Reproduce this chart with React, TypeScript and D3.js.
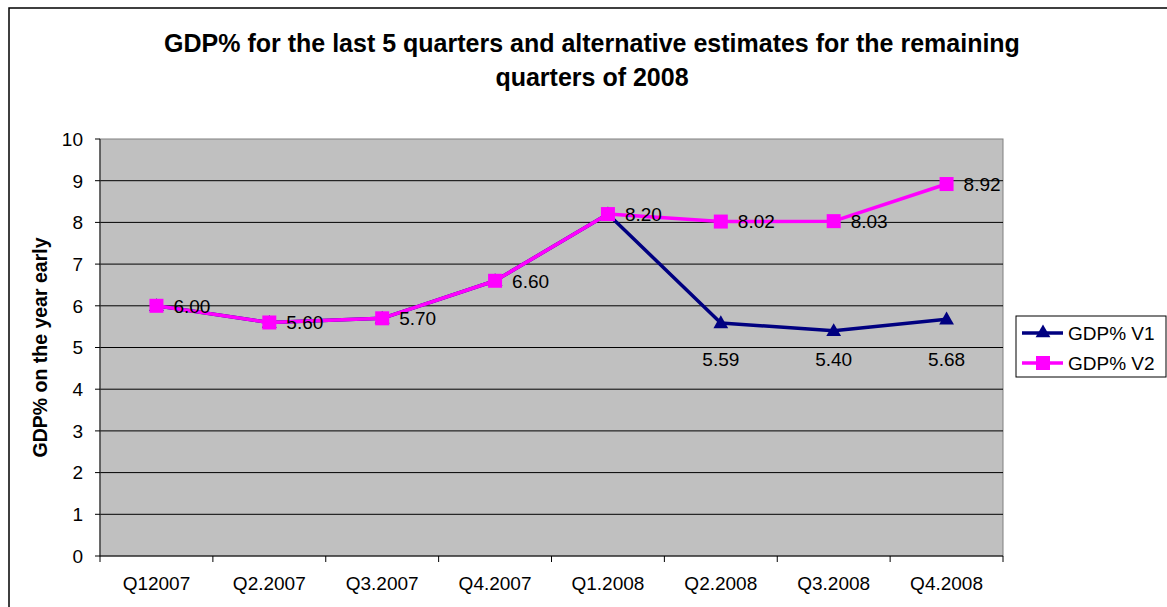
import React from "react";
import * as d3 from "d3";

const quarters = ["Q12007", "Q2.2007", "Q3.2007", "Q4.2007", "Q1.2008", "Q2.2008", "Q3.2008", "Q4.2008"];
const gdpV1 = [6.0, 5.6, 5.7, 6.6, 8.2, 5.59, 5.4, 5.68];
const gdpV2 = [6.0, 5.6, 5.7, 6.6, 8.2, 8.02, 8.03, 8.92];
const yTicks = [0, 1, 2, 3, 4, 5, 6, 7, 8, 9, 10];
const titleLines = [
  "GDP% for the last 5 quarters and alternative estimates for the remaining",
  "quarters of 2008",
];
const yTitle = "GDP% on the year early";
const seriesNames = ["GDP% V1", "GDP% V2"];

const W = 1167;
const H = 607;
const FONT = "Arial, 'Liberation Sans', Helvetica, sans-serif";
const NAVY = "#000080";
const MAGENTA = "#FF00FF";

const plot = { left: 100, right: 1003, top: 139, bottom: 556 };

export default function App() {
  const x = d3.scaleBand<string>().domain(quarters).range([plot.left, plot.right]).padding(0);
  const y = d3.scaleLinear().domain([0, 10]).range([plot.bottom, plot.top]);
  const cx = (i: number) => (x(quarters[i]) as number) + x.bandwidth() / 2;

  const line = d3
    .line<number>()
    .x((_, i) => cx(i))
    .y((d) => y(d));

  const tri = d3.symbol().type(d3.symbolTriangle).size(95)();
  const sq = 14;

  // V1 labels for the projected quarters sit on one row under the lowest point
  const v1Tail = [5, 6, 7];
  const v1LabelY = y(d3.min(v1Tail.map((i) => gdpV1[i])) as number) + 28;

  return (
    <svg
      width={W}
      height={H}
      style={{ position: "absolute", left: 0, top: 0, background: "#fff" }}
      fontFamily={FONT}
    >
      {/* chart frame */}
      <rect x={9} y={8} width={W + 20} height={H + 20} fill="#fff" stroke="#000" strokeWidth={1.5} />

      {/* title */}
      {titleLines.map((t, i) => (
        <text
          key={i}
          x={592}
          y={52 + i * 34}
          textAnchor="middle"
          fontWeight="bold"
          fontSize={25}
          fill="#000"
        >
          {t}
        </text>
      ))}

      {/* plot area */}
      <rect
        x={plot.left}
        y={plot.top}
        width={plot.right - plot.left}
        height={plot.bottom - plot.top}
        fill="#C0C0C0"
        stroke="#808080"
        strokeWidth={1}
      />

      {/* gridlines */}
      {yTicks
        .filter((t) => t > 0 && t < 10)
        .map((t) => (
          <line key={t} x1={plot.left} x2={plot.right} y1={y(t)} y2={y(t)} stroke="#000" strokeWidth={1} />
        ))}

      {/* y axis */}
      <line x1={plot.left} x2={plot.left} y1={plot.top} y2={plot.bottom} stroke="#333" strokeWidth={1.2} />
      {yTicks.map((t) => (
        <g key={t}>
          <line x1={plot.left - 5} x2={plot.left} y1={y(t)} y2={y(t)} stroke="#000" />
          <text x={83} y={y(t)} dy="0.36em" textAnchor="end" fontSize={19} fill="#000">
            {t}
          </text>
        </g>
      ))}
      <text
        transform={`translate(47, 347.5) rotate(-90)`}
        textAnchor="middle"
        fontWeight="bold"
        fontSize={19.5}
        fill="#000"
      >
        {yTitle}
      </text>

      {/* x axis */}
      <line x1={plot.left} x2={plot.right} y1={plot.bottom} y2={plot.bottom} stroke="#000" strokeWidth={1.2} />
      {quarters.map((q, i) => (
        <g key={q}>
          <line
            x1={x(q) as number}
            x2={x(q) as number}
            y1={plot.bottom}
            y2={plot.bottom + 6}
            stroke="#000"
          />
          <text x={cx(i)} y={590} textAnchor="middle" fontSize={19} fill="#000">
            {q}
          </text>
        </g>
      ))}
      <line x1={plot.right} x2={plot.right} y1={plot.bottom} y2={plot.bottom + 6} stroke="#000" />

      {/* series V1 */}
      <path d={line(gdpV1) as string} fill="none" stroke={NAVY} strokeWidth={3.5} strokeLinejoin="round" />
      {gdpV1.map((v, i) => (
        <path key={i} d={tri as string} transform={`translate(${cx(i)}, ${y(v) + 1})`} fill={NAVY} />
      ))}

      {/* series V2 */}
      <path d={line(gdpV2) as string} fill="none" stroke={MAGENTA} strokeWidth={3.5} strokeLinejoin="round" />
      {gdpV2.map((v, i) => (
        <rect key={i} x={cx(i) - sq / 2} y={y(v) - sq / 2} width={sq} height={sq} fill={MAGENTA} />
      ))}

      {/* data labels */}
      {gdpV2.map((v, i) => (
        <text key={i} x={cx(i) + 17} y={y(v)} dy="0.36em" fontSize={19} fill="#000">
          {v.toFixed(2)}
        </text>
      ))}
      {v1Tail.map((i) => (
        <text key={i} x={cx(i)} y={v1LabelY} dy="0.36em" textAnchor="middle" fontSize={19} fill="#000">
          {gdpV1[i].toFixed(2)}
        </text>
      ))}

      {/* legend */}
      <rect x={1016} y={316} width={150} height={61} fill="#fff" stroke="#000" strokeWidth={1} />
      {seriesNames.map((name, i) => {
        const ly = 333 + i * 30;
        const color = i === 0 ? NAVY : MAGENTA;
        return (
          <g key={name}>
            <line x1={1022} x2={1063} y1={ly} y2={ly} stroke={color} strokeWidth={3.5} />
            {i === 0 ? (
              <path d={tri as string} transform={`translate(1043, ${ly})`} fill={NAVY} />
            ) : (
              <rect x={1043 - sq / 2} y={ly - sq / 2} width={sq} height={sq} fill={MAGENTA} />
            )}
            <text x={1068} y={ly} dy="0.36em" fontSize={19} fill="#000">
              {name}
            </text>
          </g>
        );
      })}
    </svg>
  );
}
